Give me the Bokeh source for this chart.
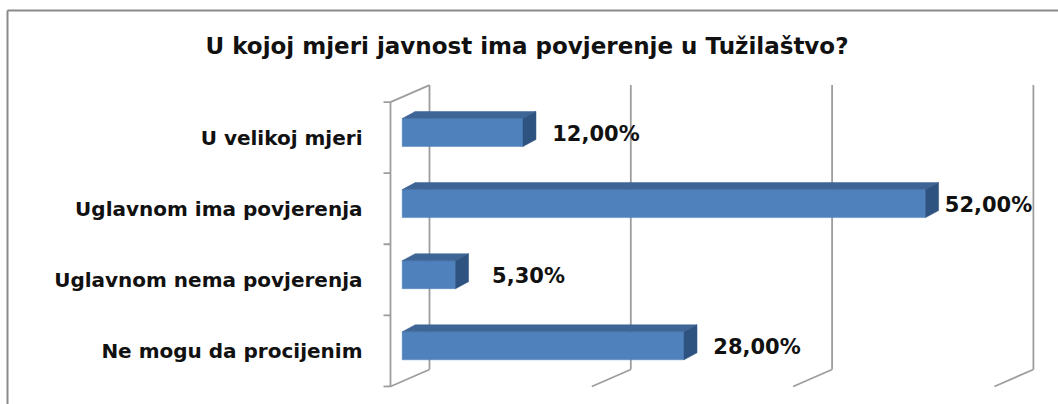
from bokeh.plotting import figure
from bokeh.models import Range1d
from bokeh.embed import file_html
from bokeh.resources import INLINE
from bokeh.core.properties import value

# ---------------- data ----------------
title_text = "U kojoj  mjeri javnost ima povjerenje u Tužilaštvo?"
categories = ["U velikoj mjeri", "Uglavnom ima povjerenja",
              "Uglavnom nema povjerenja", "Ne mogu da procijenim"]
values = [12.0, 52.0, 5.3, 28.0]
value_labels = ["12,00%", "52,00%", "5,30%", "28,00%"]
grid_ticks = [0, 20, 40, 60]

# ---------------- layout (pixels -> data) ----------------
W, H = 1058, 404
SX = 10.065          # px per percent
SY = 71.1            # px per category
X0P = 401.7          # page x of 0 % (bar front face)
Y0P = 345.3          # page y of lowest bar centre

def px(xp):
    return (xp - X0P) / SX

def py(yp):
    return (Y0P - yp) / SY

x_start, x_end = px(0), px(W)
y_start, y_end = py(H), py(0)

p = figure(width=W, height=H, output_backend="svg", toolbar_location=None,
           x_range=Range1d(x_start, x_end), y_range=Range1d(y_start, y_end),
           x_axis_location=None, y_axis_location=None, min_border=0,
           outline_line_color=None, background_fill_color="white",
           border_fill_color="white")
p.grid.visible = False

n = len(categories)
ys = [n - 1 - j for j in range(n)]

# 3D geometry
bar_h = 28 / SY
bdx, bdy = 13 / SX, 7 / SY            # bar depth
wf, wb = -11.7 / SX, 27.3 / SX        # wall front / back x offsets
fy = -5.1 / SY                        # front plane y shift
wdy = 17 / SY                         # wall depth in y
y_lo_f, y_hi_f = -0.5 + fy, n - 0.5 + fy
y_lo_b, y_hi_b = y_lo_f + wdy, y_hi_f + wdy

grid_col = "#9d9d9d"
# gridlines on the back wall + floor diagonals
gx, gy = [], []
for g in grid_ticks:
    gx.append([g + wb, g + wb])
    gy.append([y_lo_b, y_hi_b])
    gx.append([g + wb, g + wf])
    gy.append([y_lo_b, y_lo_f])
# left wall front edge and its top edge
gx.append([wf, wf]); gy.append([y_lo_f, y_hi_f])
gx.append([wf, wb]); gy.append([y_hi_f, y_hi_b])
# ticks on front edge
tick_len = 7 / SX
for k in range(n + 1):
    gx.append([wf - tick_len, wf]); gy.append([y_lo_f + k, y_lo_f + k])
p.multi_line(gx, gy, line_color=grid_col, line_width=1.8)

# outer chart border (top and left)
p.multi_line([[px(7), px(W)], [px(7), px(7)]],
             [[py(10), py(10)], [py(10), py(H)]],
             line_color="#8a8a8a", line_width=2)

# bars
front_col, top_col, side_col = "#4f81bd", "#3d6596", "#2f5381"
tops = [y + bar_h / 2 for y in ys]
bots = [y - bar_h / 2 for y in ys]
p.quad(left=0, right=values, bottom=bots, top=tops,
       fill_color=front_col, line_color=front_col, line_width=0.5)
p.patches([[0, v, v + bdx, bdx] for v in values],
          [[t, t, t + bdy, t + bdy] for t in tops],
          fill_color=top_col, line_color=top_col, line_width=0.5)
p.patches([[v, v, v + bdx, v + bdx] for v in values],
          [[b, t, t + bdy, b + bdy] for b, t in zip(bots, tops)],
          fill_color=side_col, line_color=side_col, line_width=0.5)

# value labels (clamped to the plot area)
lab_off = 73 / SX
max_center = px(988)
lab_x = [min(v + lab_off, max_center) for v in values]
p.text(x=lab_x, y=[y - 1 / SY for y in ys], text=value_labels,
       text_font=value("DejaVu Sans"), text_font_style="bold",
       text_font_size="21px", text_align="center", text_baseline="middle",
       text_color="#111111")

# category labels
p.text(x=[px(362)] * n, y=[y + fy for y in ys], text=categories,
       text_font=value("DejaVu Sans"), text_font_style="bold",
       text_font_size="20px", text_align="right", text_baseline="middle",
       text_color="#111111")

# title
p.text(x=[px(530.5)], y=[py(45)], text=[title_text],
       text_font=value("DejaVu Sans"), text_font_style="bold",
       text_font_size="23px", text_align="center",
       text_baseline="alphabetic", text_color="#111111")

open("out.html", "w").write(file_html(p, INLINE))
